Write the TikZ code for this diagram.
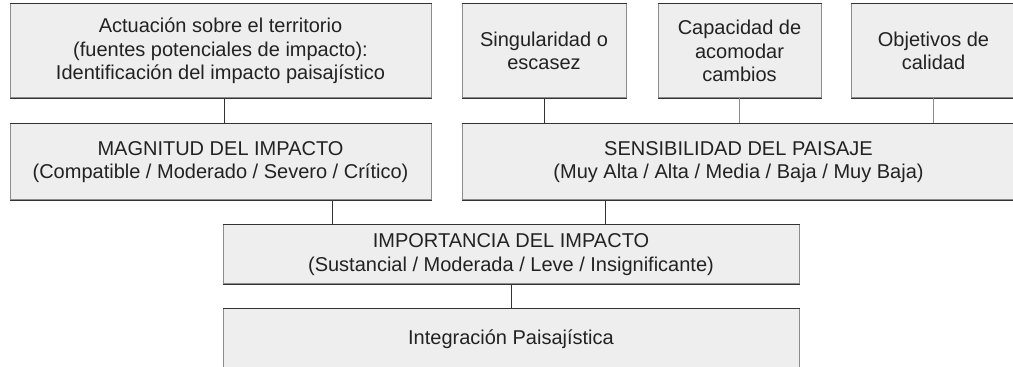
\documentclass[tikz,border=0pt]{standalone}
\usepackage{fontspec}
\setmainfont{Liberation Sans}
\usepackage{xcolor}
\usetikzlibrary{positioning}
\definecolor{boxfill}{HTML}{EEEEEE}
\definecolor{edgedark}{HTML}{333333}
\definecolor{sidegray}{HTML}{8C8C8C}
\definecolor{textgray}{HTML}{222222}
\tikzset{
	box/.style={rectangle, fill=boxfill, draw=sidegray, line width=0.5pt, inner sep=0pt,
		align=center, text=textgray, font=\fontsize{10}{11.65}\selectfont},
	edge/.style={draw=edgedark, line width=0.75pt},
	link/.style={draw=edgedark, line width=0.5pt},
	linklight/.style={draw=sidegray, line width=0.9pt}
}

\begin{document}
\begin{tikzpicture}[x=0.5pt, y=-0.5pt]
	\useasboundingbox (0,0) rectangle (1013,367);
	\node[box, minimum width=210.5pt, minimum height=47pt] (act) at (220.5,51)
		{Actuación sobre el territorio\\(fuentes potenciales de impacto):\\Identificación del impacto paisajístico};
	\node[box, minimum width=210.5pt, minimum height=38pt] (mag) at (220.5,162)
		{MAGNITUD DEL IMPACTO\\(Compatible / Moderado / Severo / Crítico)};
	\node[box, minimum width=82pt, minimum height=47pt] (sing) at (544,51)
		{Singularidad o\\escasez};
	\node[box, minimum width=81.5pt, minimum height=47pt] (cap) at (739.5,51)
		{Capacidad de\\acomodar\\cambios};
	\node[box, minimum width=82.5pt, minimum height=47pt] (obj) at (933.5,51)
		{Objetivos de\\calidad};
	\node[box, minimum width=276.5pt, minimum height=38pt] (sens) at (738.5,162)
		{SENSIBILIDAD DEL PAISAJE\\(Muy Alta / Alta / Media / Baja / Muy Baja)};
	\node[box, minimum width=288pt, minimum height=29.5pt] (imp) at (511,254.5)
		{IMPORTANCIA DEL IMPACTO\\(Sustancial / Moderada / Leve / Insignificante)};
	\node[box, minimum width=288pt, minimum height=30pt] (intg) at (511,339)
		{Integración Paisajística};

%	dark top and bottom edges
	\foreach \n in {act,mag,sing,cap,obj,sens,imp,intg}
		\draw[edge] (\n.north west) -- (\n.north east) (\n.south west) -- (\n.south east);

%	links
	\draw[link] (act.south -| 224,0) -- (mag.north -| 224,0);
	\draw[link] (sing.south) -- (sing.south |- sens.north);
	\draw[linklight] (cap.south) -- (cap.south |- sens.north);
	\draw[linklight] (obj.south) -- (obj.south |- sens.north);
	\draw[link] (mag.south -| 332,0) -- (imp.north -| 332,0);
	\draw[link] (sens.south -| 605,0) -- (imp.north -| 605,0);
	\draw[link] (imp.south) -- (intg.north);
\end{tikzpicture}
\end{document}
